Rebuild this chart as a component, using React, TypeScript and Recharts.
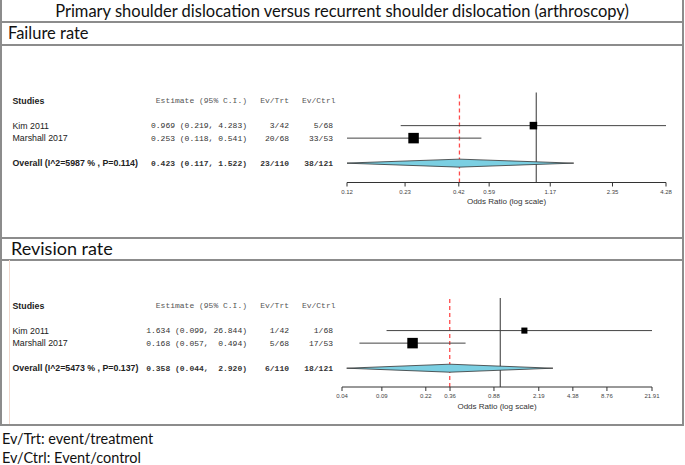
import { ComposedChart, ReferenceLine, Scatter, XAxis, YAxis } from 'recharts'

// Failure rate
const failStudies = ['Kim  2011', 'Marshall 2017']
const failEst = [0.969, 0.253]
const failLow = [0.219, 0.118]
const failHigh = [4.283, 0.541]
const failTrt = ['3/42', '20/68']
const failCtrl = ['5/68', '33/53']
const failWeight = [34, 66]
const failOverallLabel = 'Overall (I^2=5987 % , P=0.114)'
const failOverall = [0.423, 0.117, 1.522]
const failOverallEvents = ['23/110', '38/121']
const failTicks = [0.12, 0.23, 0.42, 0.59, 1.17, 2.35, 4.28]

// Revision rate
const revStudies = ['Kim  2011', 'Marshall 2017']
const revEst = [1.634, 0.168]
const revLow = [0.099, 0.057]
const revHigh = [26.844, 0.494]
const revTrt = ['1/42', '5/68']
const revCtrl = ['1/68', '17/53']
const revWeight = [25, 75]
const revOverallLabel = 'Overall (I^2=5473 % , P=0.137)'
const revOverall = [0.358, 0.044, 2.92]
const revOverallEvents = ['6/110', '18/121']
const revTicks = [0.04, 0.09, 0.22, 0.36, 0.88, 2.19, 4.38, 8.76, 21.91]

const SANS = '"Liberation Sans", Arial, sans-serif'
const MONO = '"Liberation Mono", "Courier New", monospace'
const LINE = '#8c8c8c'
const SQUARE_MAX = 10.5
const DIAMOND_H = 4

type Row = {
  y: number
  kind: 'head' | 'study' | 'overall'
  name: string
  est: string
  trt: string
  ctrl: string
}

function buildRows(
  studies: string[],
  est: number[],
  low: number[],
  high: number[],
  trt: string[],
  ctrl: string[],
  overallLabel: string,
  overall: number[],
  overallEvents: string[],
): Row[] {
  const lows = [...low, overall[1]].map((v) => v.toFixed(3))
  const highs = [...high, overall[2]].map((v) => v.toFixed(3))
  const lw = Math.max(...lows.map((s) => s.length))
  const hw = Math.max(...highs.map((s) => s.length))
  const fmt = (e: number, i: number) =>
    `${e.toFixed(3)} (${lows[i].padStart(lw)}, ${highs[i].padStart(hw)})`
  const rows: Row[] = [
    { y: 0, kind: 'head', name: 'Studies', est: 'Estimate (95% C.I.)', trt: 'Ev/Trt', ctrl: 'Ev/Ctrl' },
  ]
  studies.forEach((s, i) =>
    rows.push({ y: 2 + i, kind: 'study', name: s, est: fmt(est[i], i), trt: trt[i], ctrl: ctrl[i] }),
  )
  rows.push({
    y: 5,
    kind: 'overall',
    name: overallLabel,
    est: fmt(overall[0], studies.length),
    trt: overallEvents[0],
    ctrl: overallEvents[1],
  })
  return rows
}

function RowTick({ y, payload, rows }: any) {
  const r: Row | undefined = rows.find((d: Row) => d.y === payload.value)
  if (!r) return null
  const bold = r.kind !== 'study'
  const monoBold = r.kind === 'overall'
  const monoFill = r.kind === 'head' ? '#555' : '#333'
  return (
    <g>
      <text x={12.5} y={y} dy="0.35em" fontFamily={SANS} fontSize={8.8} fontWeight={bold ? 700 : 400} fill="#222">
        {r.name}
      </text>
      <text x={247} y={y} dy="0.35em" textAnchor="end" fontFamily={MONO} fontSize={8}
        fontWeight={monoBold ? 700 : 400} fill={monoFill} style={{ whiteSpace: 'pre' }}>
        {r.est}
      </text>
      <text x={289} y={y} dy="0.35em" textAnchor="end" fontFamily={MONO} fontSize={8}
        fontWeight={monoBold ? 700 : 400} fill={monoFill}>
        {r.trt}
      </text>
      <text x={r.kind === 'head' ? 335.5 : 333} y={y} dy="0.35em" textAnchor="end" fontFamily={MONO} fontSize={8}
        fontWeight={monoBold ? 700 : 400} fill={monoFill}>
        {r.ctrl}
      </text>
    </g>
  )
}

function Square(props: any) {
  const { cx, cy, payload } = props
  const s = SQUARE_MAX * Math.sqrt(payload.w / payload.maxW)
  return <rect x={cx - s / 2} y={cy - s / 2} width={s} height={s} fill="#000" />
}

function Diamond(props: any) {
  const [a, b, c] = props.points
  const d = `M${a.x},${a.y} L${b.x},${b.y - DIAMOND_H} L${c.x},${c.y} L${b.x},${b.y + DIAMOND_H} Z`
  return <path d={d} fill="#7bcfe2" stroke="#333" strokeWidth={0.8} />
}

const Nothing = () => <g />

interface ForestProps {
  top: number
  height: number
  yAxisWidth: number
  right: number
  marginTop: number
  xAxisHeight: number
  yDomain: number[]
  ticks: number[]
  rows: Row[]
  est: number[]
  low: number[]
  high: number[]
  weight: number[]
  overall: number[]
}

function Forest(p: ForestProps) {
  const maxW = Math.max(...p.weight)
  const points = p.est.map((e, i) => ({ x: e, y: 2 + i, w: p.weight[i], maxW }))
  const overallPts = [
    { x: p.overall[1], y: 5 },
    { x: p.overall[0], y: 5 },
    { x: p.overall[2], y: 5 },
  ]
  return (
    <div style={{ position: 'absolute', left: 0, top: p.top }}>
      <ComposedChart
        width={683}
        height={p.height}
        margin={{ top: p.marginTop, right: p.right, bottom: 0, left: 0 }}
      >
        <XAxis
          dataKey="x"
          type="number"
          scale="log"
          domain={[p.ticks[0], p.ticks[p.ticks.length - 1]]}
          ticks={p.ticks}
          interval={0}
          allowDataOverflow
          height={p.xAxisHeight}
          tickSize={4}
          tickMargin={3}
          tickFormatter={(v: number) => v.toFixed(2)}
          tick={{ fontSize: 6, fill: '#444', fontFamily: SANS }}
          tickLine={{ stroke: '#333' }}
          axisLine={{ stroke: '#333' }}
          label={{
            value: 'Odds Ratio (log scale)',
            position: 'insideTop',
            offset: 16,
            fontSize: 8,
            fill: '#333',
            fontFamily: SANS,
          }}
        />
        <YAxis
          dataKey="y"
          type="number"
          reversed
          domain={p.yDomain}
          ticks={p.rows.map((r) => r.y)}
          interval={0}
          allowDataOverflow
          width={p.yAxisWidth}
          axisLine={false}
          tickLine={false}
          tick={(t: any) => <RowTick {...t} rows={p.rows} />}
        />
        <ReferenceLine x={1} stroke="#333" strokeWidth={1} />
        <ReferenceLine x={p.overall[0]} stroke="#ff4a4a" strokeDasharray="4 3" strokeWidth={1.3} />
        {p.est.map((_, i) => (
          <Scatter
            key={`ci-${i}`}
            data={[
              { x: p.low[i], y: 2 + i },
              { x: p.high[i], y: 2 + i },
            ]}
            line={{ stroke: '#444', strokeWidth: 1 }}
            shape={Nothing}
            isAnimationActive={false}
          />
        ))}
        <Scatter data={overallPts} line={Diamond} shape={Nothing} isAnimationActive={false} />
        <Scatter data={points} shape={Square} isAnimationActive={false} />
      </ComposedChart>
    </div>
  )
}

const hLine = (y: number) => (
  <div style={{ position: 'absolute', left: 0, top: y, width: 684, height: 2, background: LINE }} />
)

export default function App() {
  const failRows = buildRows(failStudies, failEst, failLow, failHigh, failTrt, failCtrl,
    failOverallLabel, failOverall, failOverallEvents)
  const revRows = buildRows(revStudies, revEst, revLow, revHigh, revTrt, revCtrl,
    revOverallLabel, revOverall, revOverallEvents)

  return (
    <div style={{ position: 'absolute', left: 0, top: 0, width: 685, height: 465, background: '#fff', fontFamily: 'Lato, sans-serif', color: '#111' }}>
      <div style={{ position: 'absolute', left: 0, top: 0, width: 684, height: 22, lineHeight: '22px', textAlign: 'center', fontSize: 16.5 }}>
        Primary shoulder dislocation versus recurrent shoulder dislocation (arthroscopy)
      </div>
      <div style={{ position: 'absolute', left: 8, top: 23, height: 21, lineHeight: '21px', fontSize: 16.5 }}>
        Failure rate
      </div>
      <div style={{ position: 'absolute', left: 11, top: 238, height: 21, lineHeight: '21px', fontSize: 18 }}>
        Revision rate
      </div>

      <Forest
        top={46}
        height={188}
        yAxisWidth={347}
        right={17}
        marginTop={46.5}
        xAxisHeight={51.5}
        yDomain={[-0.65, 6.55]}
        ticks={failTicks}
        rows={failRows}
        est={failEst}
        low={failLow}
        high={failHigh}
        weight={failWeight}
        overall={failOverall}
      />
      <Forest
        top={260}
        height={164}
        yAxisWidth={342}
        right={31}
        marginTop={38}
        xAxisHeight={37}
        yDomain={[-0.6, 6.5]}
        ticks={revTicks}
        rows={revRows}
        est={revEst}
        low={revLow}
        high={revHigh}
        weight={revWeight}
        overall={revOverall}
      />

      {hLine(21)}
      {hLine(43.5)}
      {hLine(236.5)}
      {hLine(258.5)}
      {hLine(424)}
      <div style={{ position: 'absolute', left: 0, top: 0, width: 2, height: 426, background: LINE }} />
      <div style={{ position: 'absolute', left: 682, top: 0, width: 2, height: 426, background: LINE }} />
      <div style={{ position: 'absolute', left: 9, top: 260, width: 1, height: 164, background: '#f1d9cf' }} />

      <div style={{ position: 'absolute', left: 2, top: 429, lineHeight: '19px', fontSize: 14.5 }}>
        <div>Ev/Trt: event/treatment</div>
        <div>Ev/Ctrl: Event/control</div>
      </div>
    </div>
  )
}
